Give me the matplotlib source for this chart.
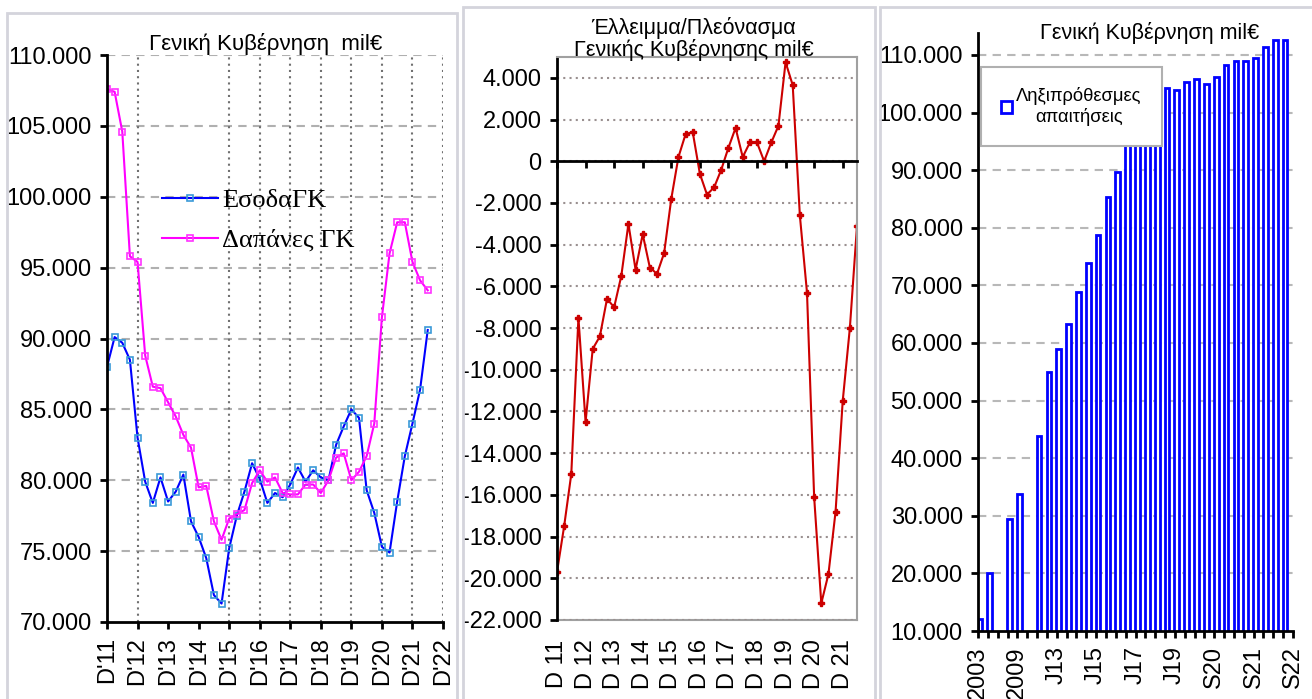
import numpy as np
import matplotlib.pyplot as plt
from matplotlib.patches import Rectangle, Patch
from matplotlib.ticker import FuncFormatter, MultipleLocator

plt.rcParams['font.family'] = ['Liberation Sans', 'DejaVu Sans']

# --- left panel: revenue / expenditure, quarterly D'11 .. 2022 (thousand mil€)
esoda = [88.0, 90.1, 89.7, 88.5, 83.0, 79.9, 78.4, 80.2, 78.5, 79.2, 80.4,
         77.1, 76.0, 74.5, 71.9, 71.3, 75.2, 77.5, 79.2, 81.2, 80.1, 78.4,
         79.1, 78.8, 79.7, 80.9, 79.9, 80.7, 80.2, 80.0, 82.5, 83.8, 85.0,
         84.4, 79.3, 77.7, 75.3, 74.9, 78.5, 81.7, 84.0, 86.4, 90.6]
dapanes = [107.6, 107.4, 104.6, 95.8, 95.4, 88.8, 86.6, 86.5, 85.5, 84.5,
           83.2, 82.3, 79.5, 79.6, 77.1, 75.8, 77.3, 77.6, 77.9, 79.8, 80.7,
           79.9, 80.2, 79.1, 79.0, 79.0, 79.7, 79.7, 79.1, 80.0, 81.6, 81.9,
           80.0, 80.6, 81.7, 84.0, 91.5, 96.0, 98.2, 98.2, 95.4, 94.1, 93.4]
left_labels = ["D'11", "D'12", "D'13", "D'14", "D'15", "D'16", "D'17",
               "D'18", "D'19", "D'20", "D'21", "D'22"]

# --- middle panel: deficit / surplus (thousand mil€)
saldo = [-19.7, -17.5, -15.0, -7.5, -12.5, -9.0, -8.4, -6.6, -7.0, -5.5,
         -3.0, -5.2, -3.5, -5.1, -5.4, -4.4, -1.8, 0.2, 1.3, 1.4, -0.6,
         -1.6, -1.25, -0.4, 0.65, 1.6, 0.2, 0.9, 0.9, 0.0, 0.9, 1.7, 4.75,
         3.65, -2.6, -6.3, -16.1, -21.2, -19.8, -16.8, -11.5, -8.0, -3.1]
mid_labels = ["D 11", "D 12", "D 13", "D 14", "D 15", "D 16", "D 17",
              "D 18", "D 19", "D 20", "D 21"]

# --- right panel: arrears (thousand mil€), None = no value
arrears = [12.1, 20.0, None, 29.5, 33.7, None, 43.8, 55.0, 59.0, 63.3,
           68.8, 73.8, 78.7, 85.3, 89.6, 95.0, 95.4, 101.4, 101.2, 104.2,
           103.9, 105.3, 105.9, 105.0, 106.2, 108.2, 109.0, 109.0, 109.4,
           111.3, 112.5, 112.5]
right_labels = ["2003", "2009", "J13", "J15", "J17", "J19", "S20", "S21", "S22"]

W, H = 1312, 699
fmt = FuncFormatter(lambda v, p: f"{v:,.0f}".replace(",", "."))
TICK_FS = 17


def px_axes(fig, x0, x1, ytop, ybot):
    return fig.add_axes([x0 / W, 1 - ybot / H, (x1 - x0) / W, (ybot - ytop) / H])


def px_text(fig, x, y, s, **kw):
    return fig.text(x / W, 1 - y / H, s, ha='center', va='center', **kw)


fig = plt.figure(figsize=(W / 100, H / 100), dpi=100)

# panel frames
for (x0, y0, x1) in [(7, 13, 457), (463, 7, 875), (880, 7, 1330)]:
    fig.add_artist(Rectangle((x0 / W, -0.05), (x1 - x0) / W, 1.05 - y0 / H,
                             transform=fig.transFigure, fill=False,
                             edgecolor='#d4d4dc', lw=2))

# ---------------- left
ax1 = px_axes(fig, 107, 443, 55, 622)
q = np.arange(len(esoda))
ax1.plot(q, np.array(esoda) * 1000, color='#0000ff', lw=1.5, marker='s', ms=4,
         mfc='none', mec='#3a9ad8', mew=1.2, label='ΕσοδαΓΚ')
ax1.plot(q, np.array(dapanes) * 1000, color='#ff00ff', lw=1.5, marker='s', ms=4,
         mfc='none', mec='#ff33ff', mew=1.2, label='Δαπάνες ΓΚ')
ax1.set_xlim(0, 44)
ax1.set_ylim(70000, 110000)
ax1.set_yticks(np.arange(70000, 110001, 5000))
ax1.yaxis.set_major_formatter(fmt)
ax1.set_xticks(np.arange(0, 45, 4))
ax1.set_xticklabels(left_labels, rotation=90)
for y in np.arange(75000, 110001, 5000):
    ax1.axhline(y, color='#b0b0b0', lw=1.5, ls=(0, (4, 3)), zorder=0)
for x in [4, 16, 20, 24, 28, 32, 36, 40, 44]:
    ax1.axvline(x, color='#707070', lw=1.5, ls=(0, (1, 2)), zorder=0)
ax1.spines[['top', 'right']].set_visible(False)
ax1.spines[['left', 'bottom']].set_linewidth(2)
ax1.tick_params(axis='both', labelsize=TICK_FS, length=5, width=2, pad=6)
px_text(fig, 266, 44, 'Γενική Κυβέρνηση  mil€', fontsize=16)
ax1.legend(loc='upper left', bbox_to_anchor=(0.165, 0.764), frameon=False,
           prop={'family': 'Liberation Serif', 'size': 19}, handlelength=2.1,
           handletextpad=0.15, labelspacing=0.62, borderpad=0, borderaxespad=0)

# ---------------- middle
ax2 = px_axes(fig, 557, 857, 57, 620)
q2 = np.arange(len(saldo))
ax2.plot(q2, np.array(saldo) * 1000, color='#cc0000', lw=1.5, marker='P', ms=5)
ax2.set_xlim(0, 42)
ax2.set_ylim(-22000, 5000)
ax2.set_yticks(np.arange(-22000, 4001, 2000))
ax2.yaxis.set_major_formatter(fmt)
ax2.yaxis.grid(True, ls=(0, (1, 2)), color='#9a9090', lw=1.5)
ax2.set_axisbelow(True)
ax2.spines['bottom'].set_position(('data', 0))
ax2.spines['bottom'].set_linewidth(2)
ax2.spines['left'].set_linewidth(2)
for s in ['top', 'right']:
    ax2.spines[s].set_color('#a0a0a0')
    ax2.spines[s].set_linewidth(1.5)
ax2.set_xticks(np.arange(0, 41, 4))
ax2.tick_params(axis='x', labelbottom=False, length=5, width=2)
ax2.tick_params(axis='y', labelsize=TICK_FS, length=5, width=2, pad=6)
sec = ax2.secondary_xaxis('bottom')
sec.set_xticks(np.arange(0, 41, 4), mid_labels, rotation=90)
sec.tick_params(length=0, labelsize=TICK_FS, pad=14)
sec.spines['bottom'].set_color('#a0a0a0')
sec.spines['bottom'].set_linewidth(1.5)
px_text(fig, 693, 28, 'Έλλειμμα/Πλεόνασμα', fontsize=15.5)
px_text(fig, 694, 50, 'Γενικής Κυβέρνησης mil€', fontsize=15.5)

# ---------------- right
ax3 = px_axes(fig, 978, 1293, 33, 631)
arr = np.array([np.nan if v is None else v for v in arrears]) * 1000
slots = np.arange(len(arr))
ok = ~np.isnan(arr)
ax3.bar(slots[ok] + 0.2, arr[ok], width=0.48, facecolor='white',
        edgecolor='#0000ff', lw=2, label='Ληξιπρόθεσμες\nαπαιτήσεις')
ax3.set_xlim(0, 32)
ax3.set_ylim(10000, 113800)
ax3.set_yticks(np.arange(10000, 110001, 10000))
ax3.yaxis.set_major_formatter(fmt)
for y in np.arange(20000, 110001, 10000):
    ax3.axhline(y, color='#b8b8b8', lw=1.5, ls=(0, (4, 3)), zorder=0)
ax3.set_xticks(np.arange(0, 33, 4))
ax3.set_xticklabels(right_labels, rotation=90)
ax3.xaxis.set_minor_locator(MultipleLocator(1))
ax3.spines[['top', 'right']].set_visible(False)
ax3.spines[['left', 'bottom']].set_linewidth(2)
ax3.tick_params(axis='both', which='both', length=5, width=2)
ax3.tick_params(axis='both', labelsize=TICK_FS, pad=6)
px_text(fig, 1150, 33, 'Γενική Κυβέρνηση mil€', fontsize=15.5)
leg = ax3.legend(handles=[Patch(facecolor='white', edgecolor='#0000ff', lw=2,
                                label='Ληξιπρόθεσμες\nαπαιτήσεις')],
                 loc='upper left', bbox_to_anchor=(0.01, 0.943), fontsize=13.2,
                 fancybox=False, framealpha=1, edgecolor='#b0b0b0',
                 handlelength=0.6, handleheight=0.6, handletextpad=0.2,
                 borderpad=1.1, borderaxespad=0)
leg.get_frame().set_linewidth(1.5)
for t in leg.get_texts():
    t.set_multialignment('center')

fig.savefig('out.png', dpi=100)
